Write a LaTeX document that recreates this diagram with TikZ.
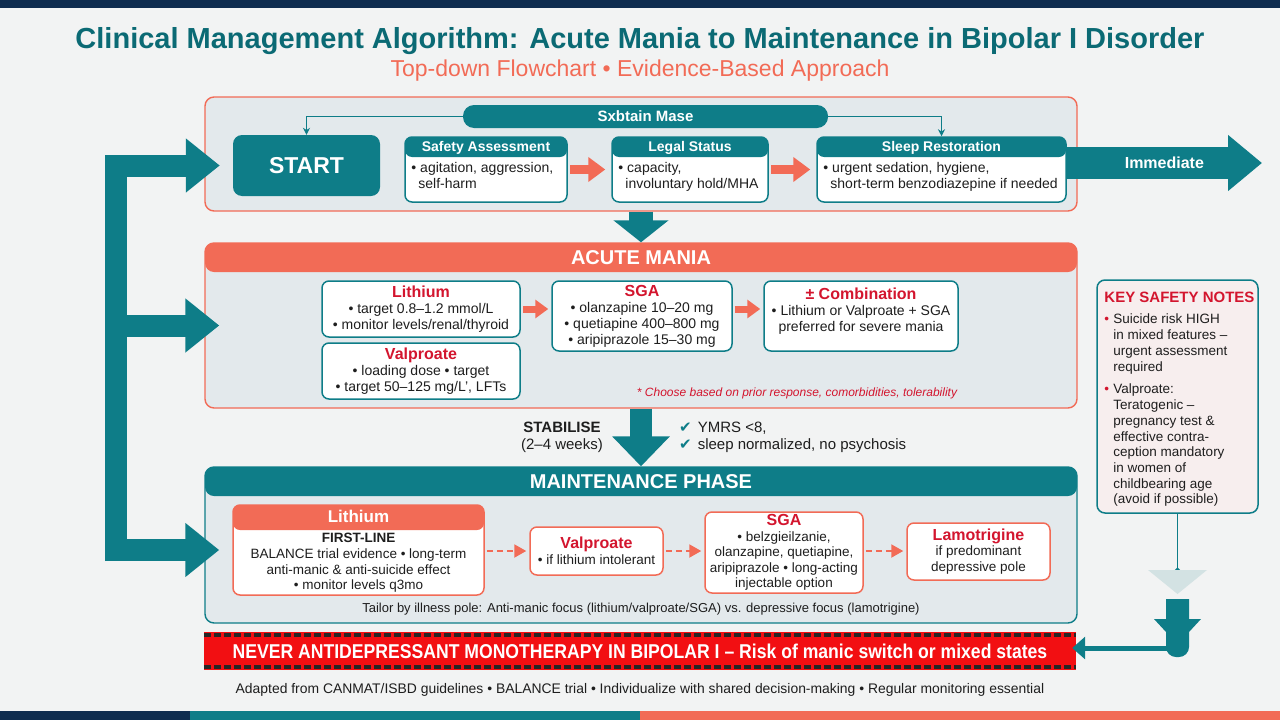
\documentclass[tikz,border=0pt]{standalone}
\usepackage{fontspec}
\setmainfont{Liberation Sans}
\newfontfamily\symfont{DejaVu Sans}
\usetikzlibrary{arrows.meta,fit,positioning}

\definecolor{tealA}{HTML}{0E7D88}
\definecolor{tealD}{HTML}{0B6A74}
\definecolor{coralA}{HTML}{F26B56}
\definecolor{redT}{HTML}{D3152E}
\definecolor{navyA}{HTML}{0F2C4F}
\definecolor{paneA}{HTML}{E3E9EC}
\definecolor{pageA}{HTML}{F2F3F3}
\definecolor{noteA}{HTML}{F7EEEE}
\definecolor{paleT}{HTML}{D3E2E3}
\definecolor{inkA}{HTML}{1E1E1E}
\definecolor{warnR}{HTML}{F20F12}

\newcommand{\fsz}[2]{\fontsize{#1}{#2}\selectfont}
\newcommand{\drug}[1]{{\fsz{16}{18}\bfseries\color{redT}#1}}
\newcommand{\tick}{{\symfont\color{tealA}✔}\hspace{6pt}}
\newcommand{\notebul}{\makebox[9pt][l]{\color{redT}\textbullet}}
\newcommand{\noteind}{\hspace*{9pt}}
\newcommand{\tcard}[7]{
  \node[#6, fit={(#2,#3) (#4,#5)}] (#1) {};
  \node[#6 text] (#1L) at (#1.center) {#7};}
\newcommand{\headcard}[7]{
  \node[card, band={tealA}{20pt}, fit={(#2,#3) (#4,#5)}] (#1) {};
  \node[cardhead] (#1T) at ([yshift=-11.5pt]#1.north) {#6};
  \node[cardbody] (#1B) at ([shift={(7pt,-26pt)}]#1.north west) {#7};}

\tikzset{
  x=1pt, y=-1pt,
  pane/.style={draw=coralA, line width=1.4pt, rounded corners=9pt, fill=paneA, inner sep=0pt},
  band/.style 2 args={path picture={\fill[#1] (path picture bounding box.north west) rectangle ([yshift=-#2]path picture bounding box.north east);}},
  card/.style={draw=tealA, line width=1.5pt, rounded corners=7pt, fill=white, inner sep=0pt},
  card text/.style={align=center, inner sep=0pt, text=inkA, font=\fsz{14}{16}},
  mcard/.style={card, draw=coralA},
  mcard text/.style={card text, font=\fsz{13.5}{15.5}},
  cardhead/.style={text=white, font=\fsz{14}{16}\bfseries, inner sep=0pt},
  cardbody/.style={anchor=north west, align=left, inner sep=0pt, text=inkA, font=\fsz{14}{15.5}},
  bandtext/.style={text=white, font=\fsz{20}{22}\bfseries, inner sep=0pt},
  pill/.style={fill=tealA, rounded corners=11pt, inner sep=0pt},
  pill text/.style={text=white, inner sep=0pt, font=\fsz{15}{17}\bfseries},
  startbox/.style={fill=tealA, rounded corners=9pt, inner sep=0pt},
  startbox text/.style={text=white, inner sep=0pt, font=\fsz{23}{25}\bfseries},
  flow/.style={draw=coralA, line width=9pt, -{Triangle[width=24pt,length=17pt]}, shorten <=2pt, shorten >=6pt},
  flowsm/.style={draw=coralA, line width=7pt, -{Triangle[width=18pt,length=13pt]}, shorten <=2pt, shorten >=3pt},
  dashflow/.style={draw=coralA, line width=2pt, dash pattern=on 6pt off 4pt, -{Triangle[width=13pt,length=12pt]}, shorten <=2pt, shorten >=3pt},
  thinlink/.style={draw=tealA, line width=1.3pt, -{Stealth[length=7pt,width=7pt]}},
  bracket/.style={draw=tealA, line width=22pt, -{Triangle[width=52pt,length=34pt]}},
  bigdown/.style={draw=tealA, line width=24pt, -{Triangle[width=54pt,length=22pt]}},
  immarrow/.style={draw=tealA, line width=32pt, -{Triangle[width=54pt,length=34pt]}},
  notebox/.style={draw=tealA, line width=1.5pt, rounded corners=8pt, fill=noteA, inner sep=0pt},
  warnbar/.style={fill=warnR, inner sep=0pt},
  warnbar text/.style={text=white, inner sep=0pt, font=\fsz{20}{22}\bfseries},
  hazard/.style={draw=black!85, line width=3.5pt, dash pattern=on 7pt off 3pt},
}

\begin{document}
\begin{tikzpicture}
  \useasboundingbox[fill=pageA] (0,0) rectangle (1280,720);
  % strips
  \fill[navyA] (0,0) rectangle (1280,8);
  \fill[navyA] (0,711) rectangle (190,720);
  \fill[tealA] (190,711) rectangle (640,720);
  \fill[coralA] (640,711) rectangle (1280,720);

  % title
  \node[text=tealD, font=\fsz{29}{31}\bfseries] (ttl) at (640,41)
    {Clinical Management Algorithm: Acute Mania to Maintenance in Bipolar I Disorder};
  \node[text=coralA, font=\fsz{23}{25}] (sub) at (640,71)
    {Top-down Flowchart • Evidence-Based Approach};

  % immediate phase
  \node[pane, fit={(205,97) (1077,211)}] (immed) {};
  \tcard{pill}{463}{105}{828}{128}{pill}{Sxbtain Mase}
  \tcard{start}{233}{135}{380}{196}{startbox}{START}
  \headcard{safety}{405}{137}{567}{202}{Safety Assessment}{• agitation, aggression,\\\hspace*{7pt}self-harm}
  \headcard{legal}{612}{137}{768}{202}{Legal Status}{• capacity,\\\hspace*{7pt}involuntary hold/MHA}
  \headcard{sleep}{817}{137}{1066}{202}{Sleep Restoration}{• urgent sedation, hygiene,\\\hspace*{7pt}short-term benzodiazepine if needed}
  \draw[flow] (safety.east) -- (legal.west);
  \draw[flow] (legal.east) -- (sleep.west);
  \draw[thinlink] (pill.west) -| (start.north);
  \draw[thinlink] (pill.east) -| (sleep.north);
  \coordinate (immTip) at (1262,163);
  \draw[immarrow] (sleep.east |- immTip) -- node[bandtext, font=\fsz{16}{18}\bfseries] (immL) {Immediate} (immTip);

  % acute mania
  \node[pane, band={coralA}{29pt}, fit={(205,243) (1077,408)}] (acute) {};
  \node[bandtext] (acuteT) at ([yshift=-15pt]acute.north) {ACUTE MANIA};
  \draw[bigdown] (immed.south) -- (acute.north);
  \tcard{aLith}{322}{281}{520}{337}{card}{\drug{Lithium}\\• target 0.8–1.2 mmol/L\\• monitor levels/renal/thyroid}
  \tcard{aValp}{322}{343}{520}{399}{card}{\drug{Valproate}\\• loading dose • target\\• target 50–125 mg/L', LFTs}
  \tcard{aSga}{552}{281}{732}{351}{card}{\drug{SGA}\\• olanzapine 10–20 mg\\• quetiapine 400–800 mg\\• aripiprazole 15–30 mg}
  \tcard{aComb}{764}{281}{958}{351}{card}{\drug{± Combination}\\• Lithium or Valproate + SGA\\preferred for severe mania\\[-4pt]}
  \draw[flowsm] (aLith.east) -- (aLith.east -| aSga.west);
  \draw[flowsm] (aSga.east |- aLith.east) -- (aComb.west |- aLith.east);
  \node[text=redT, font=\fsz{12}{14}\itshape] (choose) at (797,393)
    {* Choose based on prior response, comorbidities, tolerability};

  % stabilise
  \node[pane, draw=tealA, band={tealA}{29pt}, fit={(205,467) (1077,623)}] (maint) {};
  \node[bandtext] (maintT) at ([yshift=-15pt]maint.north) {MAINTENANCE PHASE};
  \draw[bigdown, line width=22pt, -{Triangle[width=56pt,length=30pt]}] (acute.south) -- (maint.north);
  \node[align=center, text=inkA, font=\fsz{15}{17}] (stab) at (562,437) {\textbf{STABILISE}\\(2–4 weeks)};
  \node[anchor=west, text=inkA, font=\fsz{15}{17}, inner sep=0pt] (chk1) at (679,428) {\tick YMRS <8,};
  \node[anchor=west, text=inkA, font=\fsz{15}{17}, inner sep=0pt] (chk2) at (679,446) {\tick sleep normalized, no psychosis};

  % maintenance
  \node[mcard, band={coralA}{25pt}, fit={(233,505) (484,595)}] (mLith) {};
  \node[bandtext, font=\fsz{17}{19}\bfseries] (mLithT) at ([yshift=-12.5pt]mLith.north) {Lithium};
  \node[mcard text, anchor=north, font=\fsz{13.5}{15.7}] (mLithB) at ([yshift=-29pt]mLith.north)
    {\textbf{FIRST-LINE}\\BALANCE trial evidence • long-term\\anti-manic \& anti-suicide effect\\• monitor levels q3mo};
  \tcard{mValp}{530}{527}{663}{575}{mcard}{\drug{Valproate}\\• if lithium intolerant}
  \tcard{mSga}{705}{512}{863}{593}{mcard}{\drug{SGA}\\• belzgieilzanie,\\olanzapine, quetiapine,\\aripiprazole • long-acting\\injectable option}
  \tcard{mLam}{907}{523}{1050}{580}{mcard}{\drug{Lamotrigine}\\if predominant\\depressive pole}
  \draw[dashflow] (mLith.east |- mValp.west) -- (mValp.west);
  \draw[dashflow] (mValp.east) -- (mSga.west |- mValp.east);
  \draw[dashflow] (mSga.east |- mValp.east) -- (mLam.west |- mValp.east);
  \node[text=inkA, font=\fsz{13}{15}] (tailor) at (641,609)
    {Tailor by illness pole: Anti-manic focus (lithium/valproate/SGA) vs. depressive focus (lamotrigine)};

  % left bracket
  \coordinate (trunk) at (116,550);
  \draw[bracket] ([yshift=-11pt]trunk) |- ([xshift=-13pt]start.west);
  \draw[bracket] (trunk |- acute.west) -- ([xshift=15pt]acute.west);
  \draw[bracket] (trunk) -- ([xshift=-13pt]mLith.west);

  % warning
  \tcard{warn}{204}{632}{1076}{670}{warnbar}{\scalebox{0.88}[1]{NEVER ANTIDEPRESSANT MONOTHERAPY IN BIPOLAR I – Risk of manic switch or mixed states}}
  \draw[hazard] ([yshift=-3pt]warn.north west) -- ([yshift=-3pt]warn.north east);
  \draw[hazard] ([yshift=3pt]warn.south west) -- ([yshift=3pt]warn.south east);
  \node[text=inkA, font=\fsz{13.9}{15}] (foot) at (640,690)
    {Adapted from CANMAT/ISBD guidelines • BALANCE trial • Individualize with shared decision-making • Regular monitoring essential};

  % key safety notes
  \node[notebox, fit={(1097,280) (1258,513)}] (notes) {};
  \node[anchor=north west, align=left, inner sep=0pt, text=inkA, font=\fsz{13.5}{15.7}] (notesB) at ([shift={(8pt,-13pt)}]notes.north west)
    {{\fsz{15}{17}\bfseries\color{redT}KEY SAFETY NOTES}\\[5.3pt]
     \notebul Suicide risk HIGH\\
     \noteind in mixed features –\\
     \noteind urgent assessment\\
     \noteind required\\[7.2pt]
     \notebul Valproate:\\
     \noteind Teratogenic –\\
     \noteind pregnancy test \&\\
     \noteind effective contra-\\
     \noteind ception mandatory\\
     \noteind in women of\\
     \noteind childbearing age\\
     \noteind (avoid if possible)};
  \coordinate (dot) at ([yshift=-59pt]notes.south);
  \draw[draw=tealA, line width=1.5pt, -{Circle[length=5pt]}] (notes.south) -- (dot);
  \fill[paleT] (1148,570) -- (1207,570) -- (1177.5,594) -- cycle;
  \fill[tealA] (1166,599) -- (1189,599) -- (1189,619) -- (1201,619) -- (1189,632)
    [rounded corners=10pt] -- (1189,657) -- (1166,657) [sharp corners] -- (1166,632) -- (1154,619) -- (1166,619) -- cycle;
  \coordinate (bend) at (1178,648);
  \draw[draw=tealA, line width=5pt, -{Triangle[width=22pt,length=13pt]}, shorten >=-4pt] (bend) -- (bend -| warn.east);
\end{tikzpicture}
\end{document}
